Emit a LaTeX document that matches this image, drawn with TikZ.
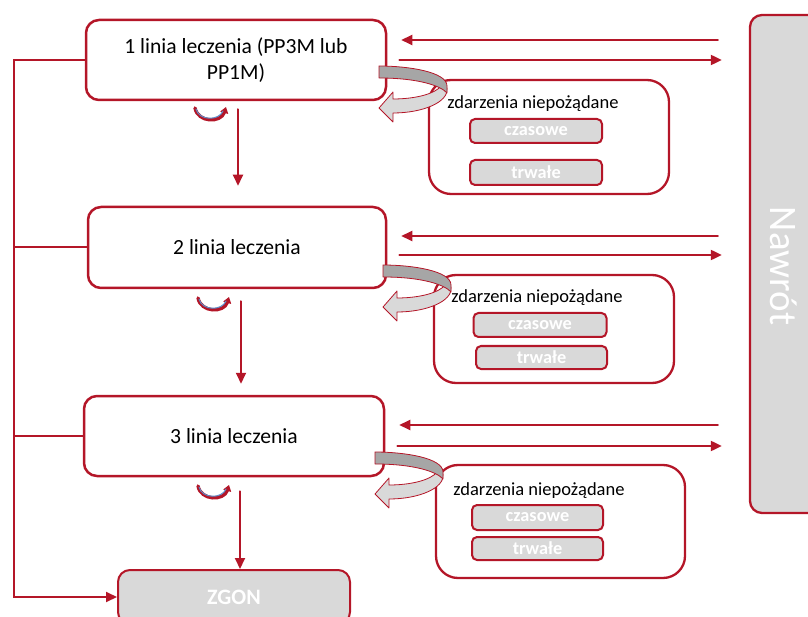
\documentclass[tikz,border=0pt]{standalone}
\usepackage{fontspec}
\setmainfont{Carlito}
\usetikzlibrary{arrows.meta,calc}
\definecolor{ered}{RGB}{180,22,40}
\definecolor{boxgray}{RGB}{217,217,217}
\definecolor{bandgray}{RGB}{166,166,166}
\definecolor{loopblue}{RGB}{90,140,200}
\begin{document}
\begin{tikzpicture}[x=1pt,y=-1pt,line cap=round,
  stage/.style={draw=ered,line width=2.5pt,fill=white,rounded corners=13pt,
    minimum width=300pt,minimum height=80pt,align=center,
    font=\fontsize{21.6}{26}\selectfont},
  endbox/.style={draw=ered,line width=2pt,fill=boxgray,rounded corners=12pt,
    text=white,font=\fontsize{22}{24}\selectfont\bfseries},
  aebox/.style={draw=ered,line width=2.3pt,fill=white,rounded corners=22pt},
  tag/.style={draw=ered,line width=2pt,fill=boxgray,rounded corners=5pt,
    text=white,font=\fontsize{18.3}{20}\selectfont\bfseries},
  title/.style={font=\fontsize{18.5}{20}\selectfont},
  conn/.style={draw=ered,line width=2pt},
  arr/.style={conn,-{Triangle[length=11pt,width=10pt]}}]
\useasboundingbox (0,0) rectangle (808,617);
\def\railx{14}
% treatment lines
\node[stage] (b1) at (236,60) {1 linia leczenia (PP3M lub\\PP1M)};
\node[stage,minimum width=298pt,minimum height=81pt] (b2) at (237,247.5) {2 linia leczenia};
\node[stage] (b3) at (234,436) {3 linia leczenia};
\node[endbox,minimum width=232pt,minimum height=54pt] (zgon) at (234,597) {ZGON};
% relapse
\node[draw=ered,line width=2.3pt,fill=boxgray,rounded corners=12pt,
  minimum width=72pt,minimum height=498pt] (nawrot) at (786,264) {};
\node[rotate=-90,text=white,font=\fontsize{39}{42}\selectfont] (nawrottxt) at (784,266) {Nawrót};
% adverse events
\node[aebox,minimum width=240pt,minimum height=114pt] (ae1) at (549,137) {};
\node[title] (t1) at (533,104) {zdarzenia niepożądane};
\node[tag,minimum width=132pt,minimum height=24pt] (c1) at (536,131) {czasowe};
\node[tag,minimum width=132pt,minimum height=25pt] (p1) at (536,172.5) {trwałe};
\node[aebox,minimum width=240pt,minimum height=108pt] (ae2) at (554,329) {};
\node[title] (t2) at (537,298) {zdarzenia niepożądane};
\node[tag,minimum width=133pt,minimum height=24pt] (c2) at (540,325) {czasowe};
\node[tag,minimum width=131pt,minimum height=23pt] (p2) at (541.5,357.5) {trwałe};
\node[aebox,minimum width=249pt,minimum height=113pt] (ae3) at (560.5,521.5) {};
\node[title] (t3) at (539,491) {zdarzenia niepożądane};
\node[tag,minimum width=131pt,minimum height=25pt] (c3) at (537.5,517.5) {czasowe};
\node[tag,minimum width=131pt,minimum height=23pt] (p3) at (537.5,548.5) {trwałe};
% left rail to death
\coordinate (rail) at (\railx,60);
\draw[arr] (b1.west) -- (rail) |- (zgon.west);
\draw[conn] (b2.west) -- (b2.west -| rail);
\draw[conn] (b3.west) -- (b3.west -| rail);
% next line
\draw[arr] ($(b1.south)+(2,8)$) -- ($(b2.north)+(1,-20)$);
\draw[arr] ($(b2.south)+(4,12)$) -- ($(b3.north)+(7,-11)$);
\draw[arr] ($(b3.south)+(6,14)$) -- ($(zgon.north)+(6,0)$);
% to and from relapse
\foreach \b/\ya/\yb in {b1/40/60, b2/236/255, b3/425/446} {
  \draw[arr] ($(nawrot.west |- 0,\ya)+(-31,0)$) -- ($(\b.east |- 0,\ya)+(14,0)$);
  \draw[arr] ($(\b.east |- 0,\yb)+(12,0)$) -- ($(nawrot.west |- 0,\yb)+(-27,0)$);
}
% small loops
\foreach \cx/\cy in {211/108, 214/298, 214/486} {
  \draw[ered,line width=3.4pt,-{Triangle[length=6pt,width=8pt]}]
    (\cx-16,\cy) .. controls (\cx-13,\cy+15) and (\cx+10,\cy+15) .. (\cx+15,\cy-1);
  \draw[loopblue,line width=1pt]
    (\cx-15,\cy+1) .. controls (\cx-12,\cy+13) and (\cx+8,\cy+13) .. (\cx+12,\cy+3);
}
% turn arrows to adverse events
\foreach \px/\py in {379/66, 383/265, 375/452} {
  \begin{scope}[shift={(\px,\py)}]
    \filldraw[fill=boxgray,draw=ered,line width=0.8pt,line join=round]
      (68,22) .. controls (70,36) and (44,47) .. (14,47) -- (14,56) -- (0,42)
      -- (14,26) -- (14,33) .. controls (36,33) and (56,28) .. (62,20) -- cycle;
    \filldraw[fill=bandgray,draw=ered,line width=0.8pt,line join=round]
      (0,0) .. controls (30,0) and (68,6) .. (68,20) -- (68,27)
      .. controls (62,20) and (40,12) .. (0,12) -- cycle;
  \end{scope}
}
\end{tikzpicture}
\end{document}
